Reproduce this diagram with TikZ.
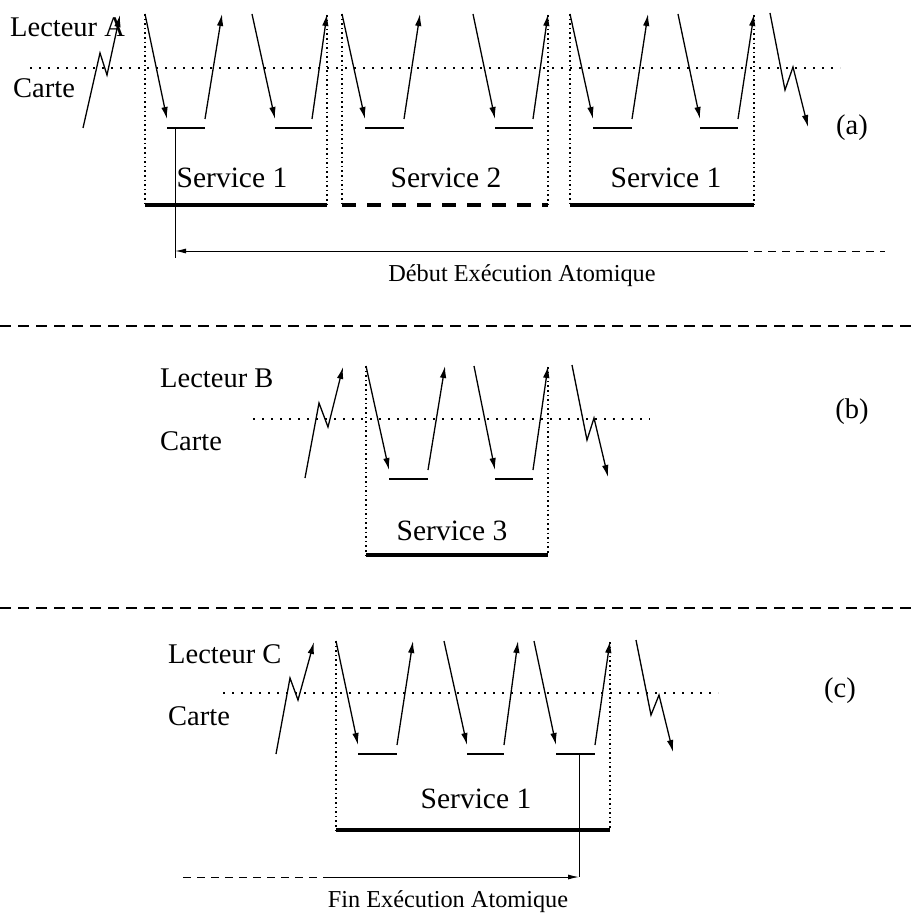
\documentclass[tikz,border=0pt]{standalone}
\usepackage{fontspec}
\setmainfont{Liberation Serif}
\usetikzlibrary{arrows.meta}
\tikzset{
  msg/.style={line width=1.3pt,-{Latex[length=12pt,width=6.5pt]}},
  barline/.style={line width=2.6pt},
  baseline/.style={line width=3.2pt},
  dashbase/.style={line width=3.2pt,dash pattern=on 14pt off 11pt},
  hdot/.style={line width=1.7pt,dash pattern=on 1.7pt off 7.3pt},
  vdot/.style={line width=1.6pt,dash pattern=on 1.6pt off 3pt},
  sep/.style={line width=1.2pt,dash pattern=on 11pt off 7pt},
  atom/.style={line width=1pt},
  atomdash/.style={line width=1pt,dash pattern=on 8pt off 6pt},
  lbl/.style={font=\fontsize{28.5}{32}\selectfont,inner sep=0pt},
  srv/.style={font=\fontsize{29.5}{33}\selectfont,inner sep=0pt},
  small/.style={font=\fontsize{24.3}{28}\selectfont,inner sep=0pt}
}
\newcommand\myexch[7]{%
  \draw[msg] (#1,#5) -- (#2,#6);
  \draw[barline] (#2,#7) -- (#3,#7);
  \draw[msg] (#3,#6) -- (#4,#5);}
\begin{document}
\begin{tikzpicture}[x=1pt,y=-1pt]
\useasboundingbox (0,0) rectangle (917,912);
% ---------------- panel (a)
\node[lbl,anchor=base west] (la) at (10,37) {Lecteur A};
\node[lbl,anchor=base west] (ca) at (13,98) {Carte};
\draw[hdot] (30,68) -- (840,68);
\draw[msg] (83,128) -- (100,53) -- (107,75) -- (120,15);
\myexch{145}{167}{205}{222}{14}{119}{128}
\myexch{252}{275}{312}{327}{14}{119}{128}
\myexch{342}{365}{404}{420}{14}{119}{128}
\myexch{473}{495}{533}{548}{14}{119}{128}
\myexch{570}{593}{632}{648}{14}{119}{128}
\myexch{678}{700}{738}{754}{14}{119}{128}
\draw[msg] (770,13) -- (785,90) -- (793,67) -- (808,127);
\draw[vdot] (145,14) -- (145,205);
\draw[vdot] (327,15) -- (327,205);
\draw[vdot] (342,14) -- (342,205);
\draw[vdot] (548,15) -- (548,205);
\draw[vdot] (570,14) -- (570,205);
\draw[vdot] (754,15) -- (754,205);
\draw[baseline] (145,205) -- (327,205);
\draw[dashbase] (342,205) -- (548,205);
\draw[baseline] (570,205) -- (754,205);
\node[srv,anchor=base] (s1) at (232,187) {Service 1};
\node[srv,anchor=base] (s2) at (446,187) {Service 2};
\node[srv,anchor=base] (s3) at (666,187) {Service 1};
\coordinate (da) at (175,128);
\coordinate (db) at (175,258);
\coordinate (dc) at (175,251);
\coordinate (dd) at (740,251);
\coordinate (de) at (885,251);
\draw[atom] (da) -- (db);
\draw[atom,-{Latex[length=11pt,width=5pt]}] (dd) -- (dc);
\draw[atomdash] (dd) -- (de);
\node[small,anchor=base] (deb) at (522,281) {Début Exécution Atomique};
\node[lbl,anchor=base] (pa) at (852,135) {(a)};
\draw[sep] (0,326) -- (917,326);
% ---------------- panel (b)
\node[lbl,anchor=base west] (lb) at (160,387) {Lecteur B};
\node[lbl,anchor=base west] (cb) at (160,450) {Carte};
\draw[hdot] (253,419) -- (650,419);
\draw[msg] (305,478) -- (319,403) -- (328,427) -- (343,367);
\myexch{366}{389}{428}{445}{366}{470}{479}
\myexch{474}{495}{533}{548}{366}{470}{479}
\draw[msg] (572,365) -- (587,440) -- (594,418) -- (608,477);
\draw[vdot] (366,366) -- (366,555);
\draw[vdot] (548,367) -- (548,555);
\draw[baseline] (366,555) -- (548,555);
\node[srv,anchor=base] (s4) at (452,540) {Service 3};
\node[lbl,anchor=base] (pb) at (852,418) {(b)};
\draw[sep] (0,608) -- (917,608);
% ---------------- panel (c)
\node[lbl,anchor=base west] (lc) at (168,663) {Lecteur C};
\node[lbl,anchor=base west] (cc) at (168,725) {Carte};
\draw[hdot] (223,693) -- (718,693);
\draw[msg] (276,754) -- (290,678) -- (298,700) -- (314,642);
\myexch{336}{358}{397}{413}{641}{745}{754}
\myexch{444}{467}{504}{518}{641}{745}{754}
\myexch{534}{556}{595}{610}{641}{745}{754}
\draw[msg] (636,640) -- (651,715) -- (659,695) -- (673,752);
\draw[vdot] (336,641) -- (336,830);
\draw[vdot] (610,642) -- (610,830);
\draw[baseline] (336,830) -- (610,830);
\node[srv,anchor=base] (s5) at (476,808) {Service 1};
\coordinate (fa) at (579,754);
\coordinate (fb) at (579,877);
\coordinate (fc) at (330,877);
\coordinate (fd) at (183,877);
\draw[atom] (fa) -- (fb);
\draw[atom,-{Latex[length=11pt,width=5pt]}] (fc) -- (fb);
\draw[atomdash] (fd) -- (fc);
\node[small,anchor=base] (fin) at (448,907) {Fin Exécution Atomique};
\node[lbl,anchor=base] (pc) at (840,697) {(c)};
\end{tikzpicture}
\end{document}
